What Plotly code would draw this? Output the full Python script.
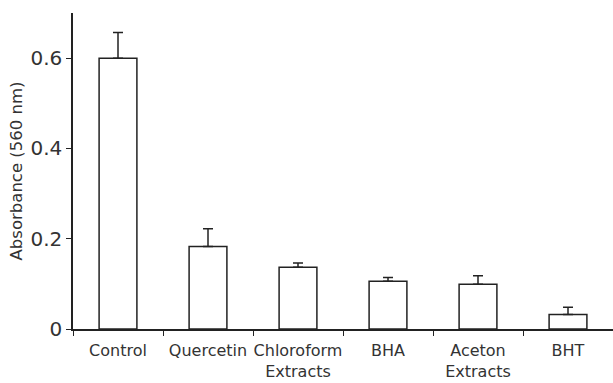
import plotly.graph_objects as go

categories = ["Control", "Quercetin", "Chloroform<br>Extracts", "BHA", "Aceton<br>Extracts", "BHT"]
absorbance = [0.600, 0.183, 0.137, 0.106, 0.099, 0.032]
errors = [0.057, 0.039, 0.009, 0.008, 0.019, 0.016]
ytick_vals = [0, 0.2, 0.4, 0.6]
ytick_text = ["0", "0.2", "0.4", "0.6"]

line_col = "#222222"
text_col = "#333333"

fig = go.Figure()
fig.add_trace(go.Bar(
    x=categories,
    y=absorbance,
    marker=dict(color="white", line=dict(color=line_col, width=1.5)),
    error_y=dict(type="data", symmetric=False, array=errors,
                 arrayminus=[0] * len(errors), color=line_col,
                 thickness=1.5, width=5),
))

fig.update_layout(
    width=613, height=383,
    margin=dict(l=73, r=0, t=13, b=54),
    plot_bgcolor="white", paper_bgcolor="white",
    bargap=0.58,
    showlegend=False,
    font=dict(family="DejaVu Sans", color=text_col, size=16),
)
fig.update_xaxes(
    type="category", tickson="boundaries", ticks="outside", ticklen=5,
    tickcolor=line_col, tickwidth=1, showline=True, linecolor=line_col,
    linewidth=1.5, showgrid=False, zeroline=False, tickangle=0,
    automargin=False, ticklabelstandoff=6,
    tickfont=dict(size=16, family="DejaVu Sans", color=text_col),
)
fig.update_yaxes(
    range=[0, 0.7], tickvals=ytick_vals, ticktext=ytick_text,
    ticks="outside", ticklen=5, tickcolor=line_col, tickwidth=1,
    showline=True, linecolor=line_col, linewidth=1.5,
    showgrid=False, zeroline=False, automargin=False,
    tickfont=dict(size=20, family="DejaVu Sans", color=text_col),
    title=dict(text="Absorbance (560 nm)", font=dict(size=16.5, family="DejaVu Sans", color=text_col), standoff=4),
)

fig.write_html("out.html")
